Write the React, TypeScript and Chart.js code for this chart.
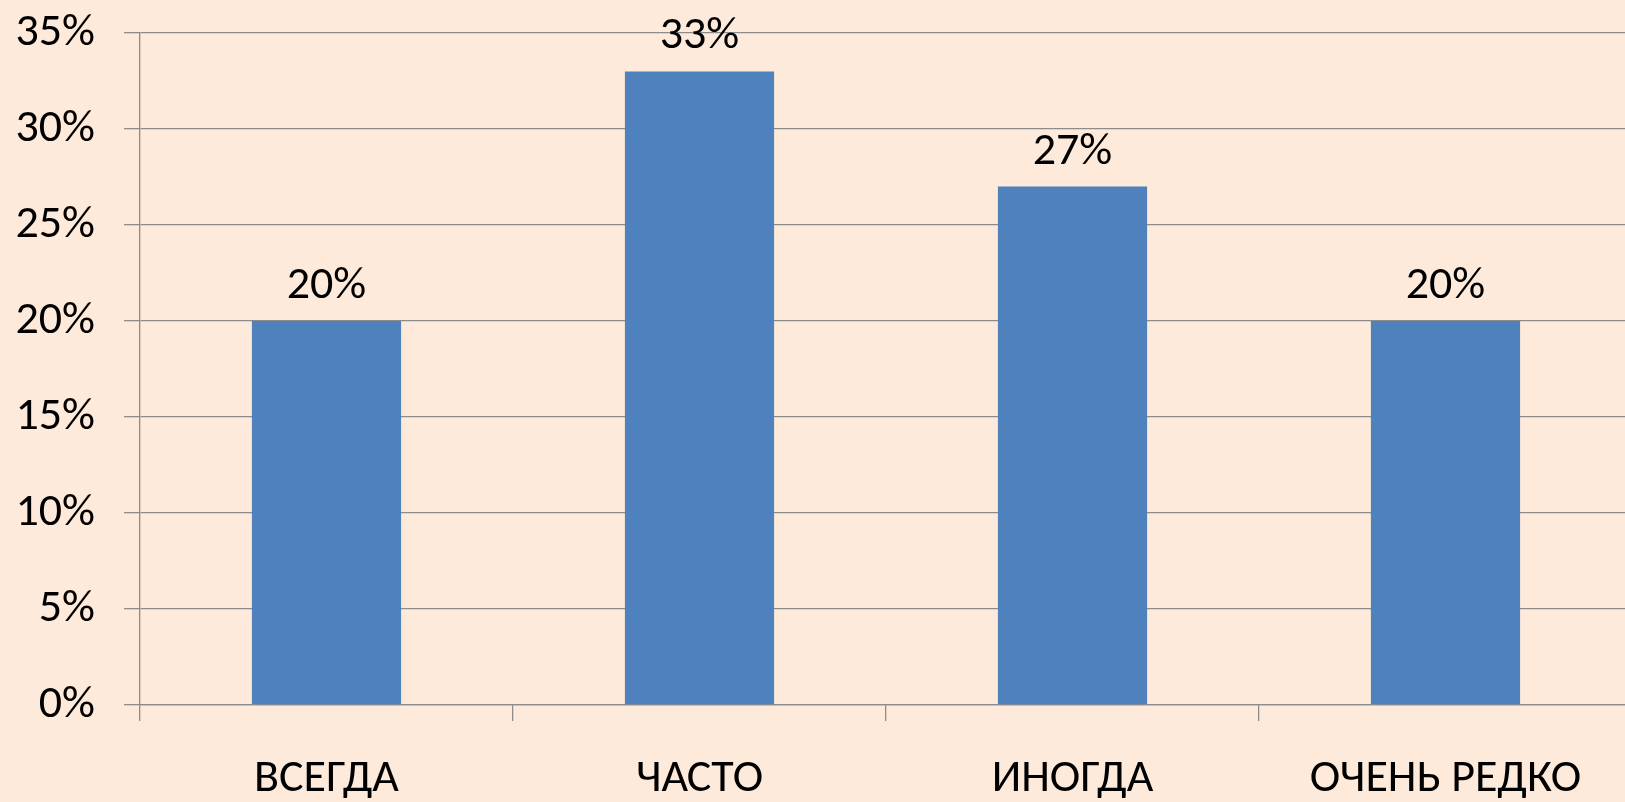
import React, { useEffect, useRef } from "react";
import { Chart, registerables } from "chart.js";

Chart.register(...registerables);

const categories: string[] = ["ВСЕГДА", "ЧАСТО", "ИНОГДА", "ОЧЕНЬ РЕДКО"];
const values: number[] = [20, 33, 27, 20];
const yTickValues: number[] = [0, 5, 10, 15, 20, 25, 30, 35];

const FONT = "Carlito, Calibri, Lato, sans-serif";
const FONT_SIZE = 46;

const dataLabelPlugin = {
  id: "dataLabels",
  afterDatasetsDraw(chart: any) {
    const ctx = chart.ctx;
    const meta = chart.getDatasetMeta(0);
    ctx.save();
    ctx.font = `${FONT_SIZE}px ${FONT}`;
    ctx.fillStyle = "#000000";
    ctx.textAlign = "center";
    ctx.textBaseline = "alphabetic";
    meta.data.forEach((bar: any, i: number) => {
      ctx.fillText(`${values[i]}%`, bar.x, bar.y - 23);
    });
    ctx.restore();
  },
};

export default function App() {
  const ref = useRef<HTMLCanvasElement>(null);

  useEffect(() => {
    document.body.style.margin = "0";
    document.body.style.overflow = "hidden";
    const canvas = ref.current!;
    const chart = new Chart(canvas, {
      type: "bar",
      data: {
        labels: categories,
        datasets: [
          {
            data: values,
            backgroundColor: "#4F81BD",
            borderWidth: 0,
            barPercentage: 0.4,
            categoryPercentage: 1,
          },
        ],
      },
      options: {
        responsive: false,
        animation: false,
        layout: { padding: { top: 33, right: 8, left: 0, bottom: 0 } },
        plugins: {
          legend: { display: false },
          tooltip: { enabled: false },
        },
        scales: {
          x: {
            afterFit(scale: any) {
              scale.height = 97;
              scale.paddingLeft = 0;
              scale.paddingRight = 0;
            },
            grid: {
              display: true,
              offset: true,
              drawOnChartArea: false,
              drawTicks: true,
              tickLength: 16,
              color: "#8C8C8C",
              lineWidth: 1.3,
            },
            border: { display: true, color: "#8C8C8C", width: 1.3 },
            ticks: {
              color: "#000000",
              font: { family: FONT, size: FONT_SIZE },
              padding: 31,
              maxRotation: 0,
              autoSkip: false,
            },
          },
          y: {
            min: 0,
            max: 35,
            afterFit(scale: any) {
              scale.width = 140;
              scale.paddingTop = 0;
              scale.paddingBottom = 0;
            },
            afterBuildTicks(scale: any) {
              scale.ticks = yTickValues.map((v) => ({ value: v }));
            },
            grid: {
              display: true,
              drawTicks: true,
              tickLength: 16,
              color: "#8C8C8C",
              lineWidth: 1.3,
            },
            border: { display: true, color: "#8C8C8C", width: 1.3 },
            ticks: {
              color: "#000000",
              font: { family: FONT, size: FONT_SIZE },
              padding: 29,
              callback: (v: any) => `${v}%`,
            },
          },
        },
      },
      plugins: [dataLabelPlugin],
    });
    return () => chart.destroy();
  }, []);

  return (
    <div
      style={{
        position: "fixed",
        left: 0,
        top: 0,
        width: 1625,
        height: 802,
        overflow: "hidden",
        background: "#FDEADA",
      }}
    >
      <canvas ref={ref} width={1640} height={802} style={{ display: "block" }} />
    </div>
  );
}
